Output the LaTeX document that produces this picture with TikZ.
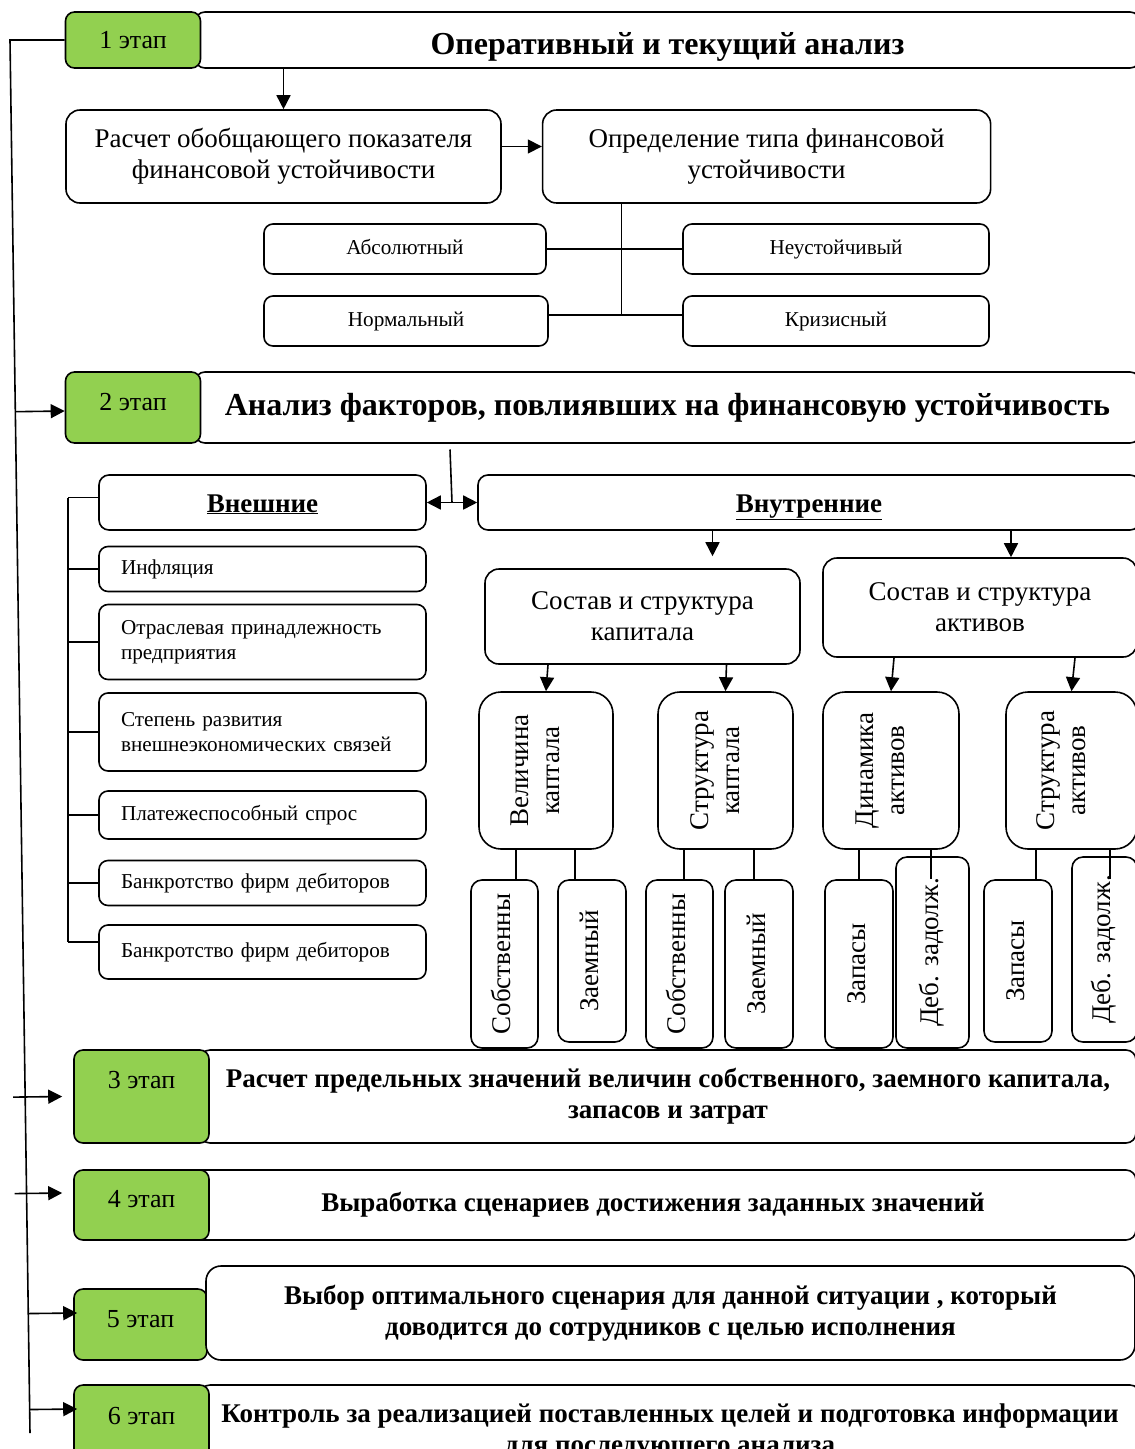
\documentclass[tikz,border=0pt]{standalone}
\usepackage{fontspec}
\setmainfont{Liberation Serif}
\usetikzlibrary{arrows.meta, positioning, calc}
\definecolor{stagegreen}{HTML}{92D050}
\newcommand{\vlab}[1]{\rotatebox{90}{\begin{tabular}{@{}c@{}}#1\end{tabular}}}

\begin{document}
\begin{tikzpicture}[x=1pt, y=-1pt, line width=1.6pt,
    B/.style={draw, fill=white, rounded corners=14pt, align=center, inner sep=2pt, font=\fontsize{27}{31}\selectfont},
    T/.style={B, rounded corners=9pt, minimum height=50pt, text height=15pt, text depth=5pt, font=\fontsize{21.2}{24.5}\selectfont},
    F/.style={B, rounded corners=9pt, minimum width=327pt, text width=283pt, inner xsep=22pt, align=left, font=\fontsize{21.2}{24.5}\selectfont},
    U/.style={B, rounded corners=10pt, minimum height=55pt, text height=19pt, text depth=0pt, font=\bfseries\fontsize{27}{31}\selectfont},
    V/.style={B, rounded corners=22pt, minimum height=157pt, execute at end node=\hspace{16pt}},
    L/.style={B, rounded corners=11pt},
    G/.style={draw, fill=stagegreen, rounded corners=9pt, minimum width=135pt, text height=17pt, text depth=0pt, font=\fontsize{26}{30}\selectfont},
    H/.style={draw, fill=white, rounded corners=10pt, align=center, font=\bfseries\fontsize{27}{31}\selectfont},
    arr/.style={-{Triangle[length=14pt, width=14pt]}},
    darr/.style={{Triangle[length=14pt, width=14pt]}-{Triangle[length=14pt, width=14pt]}}
  ]
  \useasboundingbox (0,0) rectangle (1135,1449);

  % 1 этап
  \node[H, minimum width=945pt, minimum height=56pt, text height=29pt, text depth=0pt, font=\bfseries\fontsize{32}{36}\selectfont] (h1) at (667.5,40) {Оперативный и текущий анализ};
  \node[G, minimum height=56pt] (g1) at (133,40) {1 этап};
  \node[B, minimum width=435pt, minimum height=93pt] (rb) at (283.5,156.5) {Расчет обобщающего показателя\\финансовой устойчивости};
  \node[B, minimum width=448pt, minimum height=93pt, right=40pt of rb] (tb) {Определение типа финансовой\\устойчивости};
  \node[T, minimum width=282pt] (abs) at (405,249) {Абсолютный};
  \node[T, minimum width=306pt] (neu) at (836,249) {Неустойчивый};
  \node[T, minimum width=284pt] (nor) at (406,321) {Нормальный};
  \node[T, minimum width=306pt] (krz) at (836,321) {Кризисный};
  \draw[arr] (rb.north |- h1.south) -- (rb.north);
  \draw[arr] ([yshift=10pt]rb.east) -- ([yshift=10pt]tb.west);
  \draw (abs.east) -- (neu.west);
  \draw ([yshift=6pt]nor.east) coordinate (nl) -- ([yshift=6pt]krz.west);
  \draw ([xshift=-145pt]tb.south) -- ([xshift=-145pt]tb.south |- nl);

  % 2 этап
  \node[H, minimum width=945pt, minimum height=71pt, font=\bfseries\fontsize{32}{36}\selectfont] (h2) at (667.5,407.5) {Анализ факторов, повлиявших на финансовую устойчивость};
  \node[G, minimum height=71pt, text depth=11pt] (g2) at (133,407.5) {2 этап};
  \node[U, minimum width=327pt] (vn) at (262.5,502.5) {\underline{Внешние}};
  \node[U, minimum width=662pt] (vt) at (809,502.5) {\underline{Внутренние}};

  % внешние факторы
  \node[F, minimum height=45pt] (inf) at (262.5,569) {Инфляция};
  \node[F, minimum height=75pt] (otr) at (262.5,642) {Отраслевая принадлежность\\предприятия};
  \node[F, minimum height=78pt] (stp) at (262.5,732) {Степень развития\\внешнеэкономических связей};
  \node[F, minimum height=48pt] (plt) at (262.5,815) {Платежеспособный спрос};
  \node[F, minimum height=45pt] (bk1) at (262.5,883) {Банкротство фирм дебиторов};
  \node[F, minimum height=54pt] (bk2) at (262.5,952) {Банкротство фирм дебиторов};
  \draw[darr] (vn.east) -- (vt.west);
  \draw ($(vn.east)!0.5!(vt.west)$) -- ++(-2,-53);
  \draw ([yshift=5pt]vn.west) -- ++(-30,0) coordinate (et);
  \foreach \n in {inf, otr, stp, plt, bk1}
    \draw (\n.west) -- ++(-30,0);
  \draw ([yshift=10pt]bk2.west) -- ++(-30,0) coordinate (eb);
  \draw (et) -- (eb);

  % внутренние факторы
  \node[B, minimum width=315pt, minimum height=95pt] (sk) at (642.5,616.5) {Состав и структура\\капитала};
  \node[B, minimum width=314pt, minimum height=99pt] (sa) at (980,607.5) {Состав и структура\\активов};
  \node[V, minimum width=134pt] (vk) at (546,770.5) {\vlab{Величина\\каптала}};
  \node[V, minimum width=135pt] (sc) at (725.5,770.5) {\vlab{Структура\\каптала}};
  \node[V, minimum width=136pt] (da) at (891,770.5) {\vlab{Динамика\\активов}};
  \node[V, minimum width=131pt] (sta) at (1071.5,770.5) {\vlab{Структура\\активов}};
  \node[L, minimum width=67pt, minimum height=168pt] (sb1) at (504.5,964) {\vlab{Собственны}};
  \node[L, minimum width=68pt, minimum height=162pt] (zm1) at (592,961) {\vlab{Заемный}};
  \node[L, minimum width=67pt, minimum height=168pt] (sb2) at (679.5,964) {\vlab{Собственны}};
  \node[L, minimum width=68pt, minimum height=168pt] (zm2) at (759,964) {\vlab{Заемный}};
  \node[L, minimum width=68pt, minimum height=168pt] (zp1) at (859,964) {\vlab{Запасы}};
  \node[L, minimum width=73pt, minimum height=191pt] (db1) at (932.5,952.5) {\vlab{Деб. задолж.}};
  \node[L, minimum width=68pt, minimum height=162pt] (zp2) at (1018,961) {\vlab{Запасы}};
  \node[L, minimum width=65pt, minimum height=185pt] (db2) at (1104.5,949.5) {\vlab{Деб. задолж.}};
  \draw[arr] ([xshift=70pt]sk.north |- vt.south) -- ([xshift=70pt, yshift=12pt]sk.north);
  \draw[arr] ([xshift=31pt]sa.north |- vt.south) -- ([xshift=31pt]sa.north);
  \draw[arr] ([xshift=2pt]vk.north |- sk.south) -- (vk.north);
  \draw[arr] ([xshift=1pt]sc.north |- sk.south) -- (sc.north);
  \draw[arr] ([xshift=3pt]da.north |- sa.south) -- (da.north);
  \draw[arr] ([xshift=3.5pt]sta.north |- sa.south) -- (sta.north);
  \foreach \pa/\ch/\lv/\dx in {vk/sb1/sb1/11.5, vk/zm1/zm1/-17, sc/sb2/sb2/4.5, sc/zm2/zm2/-5,
      da/zp1/zp1/0, da/db1/zp1/-1.5, sta/zp2/zp2/18, sta/db2/zp2/5.5}
    \draw ([xshift=\dx pt]\ch.north |- \pa.south) -- ([xshift=\dx pt]\ch.north |- \lv.north);

  % 3-6 этапы
  \node[H, minimum width=936pt, minimum height=93pt] (h3) at (668,1096.5) {Расчет предельных значений величин собственного, заемного капитала,\\запасов и затрат};
  \node[G, minimum height=93pt, text depth=33pt] (g3) at (141.5,1096.5) {3 этап};
  \node[H, minimum width=966pt, minimum height=70pt] (h4) at (653,1205) {Выработка сценариев достижения заданных значений};
  \node[G, minimum height=70pt, text depth=12pt] (g4) at (141.5,1205) {4 этап};
  \node[G, minimum width=133pt, minimum height=71pt, text depth=11pt] (g5) at (140.5,1324.5) {5 этап};
  \node[H, rounded corners=15pt, minimum width=929pt, minimum height=94pt] (h5) at (670.5,1313) {Выбор оптимального сценария для данной ситуации , который\\доводится до сотрудников с целью исполнения};
  \node[H, minimum width=940pt, minimum height=93pt] (h6) at (670,1431.5) {Контроль за реализацией поставленных целей и подготовка информации\\для последующего анализа};
  \node[G, minimum height=93pt, text depth=31pt] (g6) at (141.5,1431.5) {6 этап};

  % обратная связь
  \coordinate (ltop) at (10,40);
  \coordinate (lbot) at (30,1433);
  \draw (g1.west) -- (ltop) -- (lbot);
  \draw[arr] ($(ltop)!([yshift=-3.5pt]g2.west)!(lbot)$) -- ([yshift=-3.5pt]g2.west);
  \draw[arr] ($(ltop)!(g3.west)!(lbot)+(-12,0)$) -- ([xshift=-11pt]g3.west);
  \draw[arr] ($(ltop)!([yshift=12pt]g4.west)!(lbot)+(-12,0)$) -- ([xshift=-11pt, yshift=12pt]g4.west);
  \draw[arr] ($(ltop)!([yshift=11.5pt]g5.west)!(lbot)$) -- ([xshift=4pt, yshift=11.5pt]g5.west);
  \draw[arr] ($(ltop)!([yshift=22.5pt]g6.west)!(lbot)$) -- ([xshift=4pt, yshift=22.5pt]g6.west);
\end{tikzpicture}
\end{document}
